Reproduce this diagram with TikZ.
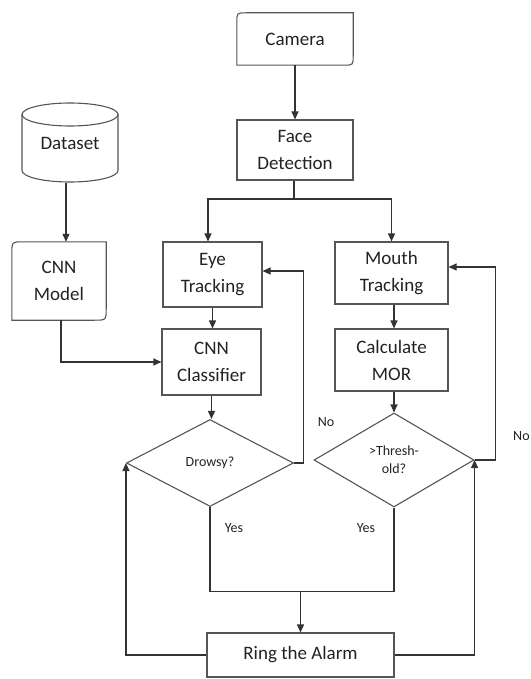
\documentclass[tikz,border=0pt]{standalone}
\usepackage{fontspec}
\setmainfont{Carlito}
\usetikzlibrary{arrows.meta,shapes.geometric,calc}
\definecolor{boxc}{HTML}{555555}
\definecolor{linec}{HTML}{333333}
\definecolor{txt}{HTML}{222222}
\newcommand\hrbox[2]{%
  \draw[box] (#1.south west) -- ($(#1.north west)+(0,#2)$) .. controls (#1.north west) .. ($(#1.north west)+(#2,0)$)
    -- (#1.north east) -- ($(#1.south east)+(0,-#2)$) .. controls (#1.south east) .. ($(#1.south east)+(-#2,0)$) -- cycle;}
\begin{document}
\begin{tikzpicture}[x=1pt,y=-1pt,
  font=\fontsize{19}{27}\selectfont, text=txt,
  every node/.style={inner sep=0pt, align=center},
  box/.style={draw=boxc, line width=1.1pt},
  arr/.style={draw=linec, line width=1.1pt, -{Triangle[length=8pt,width=7pt]}},
  ln/.style={draw=linec, line width=1.1pt},
  lbl/.style={font=\fontsize{14}{18}\selectfont}]
\useasboundingbox (0,0) rectangle (530,679);

% nodes
\node[minimum width=116pt, minimum height=52pt] (cam) at (295,39) {Camera};
\hrbox{cam}{10}
\node[box, minimum width=116pt, minimum height=60pt] (fd) at (295,150) {Face\\Detection};

\node[minimum width=96pt, minimum height=79pt] (ds) at (70,143) {Dataset};
\draw[box] (22,114.5) -- (22,170.5) arc[start angle=180, end angle=360, x radius=48pt, y radius=11.5pt] -- (118,114.5);
\draw[box] (70,114.5) ellipse[x radius=48pt, y radius=11.5pt];

\node[minimum width=94pt, minimum height=78pt] (cm) at (59,281) {CNN\\Model};
\hrbox{cm}{12}

\node[box, minimum width=99pt, minimum height=65pt] (eye) at (212.5,274.5) {Eye\\Tracking};
\node[box, minimum width=99pt, minimum height=66pt] (cls) at (211.5,362) {CNN\\Classifier};
\node[box, minimum width=113pt, minimum height=62pt] (mouth) at (391.5,273) {Mouth\\Tracking};
\node[box, minimum width=113pt, minimum height=62pt] (mor) at (391.5,360) {Calculate\\MOR};

\node[box, diamond, minimum width=167pt, minimum height=87pt, lbl] (dr) at (210,463) {Drowsy?};
\node[box, diamond, minimum width=160pt, minimum height=94pt, lbl] (th) at (394,460) {>Thresh-\\old?};

\node[box, minimum width=187pt, minimum height=44pt] (ring) at (300.5,655) {Ring the Alarm};

% labels
\node[lbl] (no1) at (326,422) {No};
\node[lbl, anchor=west] (no2) at (513,436) {No};
\node[lbl] (yes1) at (234,528) {Yes};
\node[lbl] (yes2) at (366,528) {Yes};

% connectors
\draw[arr] (cam.south) -- (fd.north);
\coordinate (split) at (294,199);
\draw[ln] (fd.south -| split) -- (split);
\draw[arr] (split) -| ([xshift=-4.5pt]eye.north);
\draw[arr] (split) -| (mouth.north);
\draw[arr] ([xshift=-4pt]ds.south) -- ([xshift=-4pt]ds.south |- cm.north);
\draw[arr] ([xshift=2pt]cm.south) |- (cls.west);
\draw[arr] (eye.south) -- (eye.south |- cls.north);
\draw[arr] (cls.south) -- (cls.south |- dr.north);
\draw[arr] (mouth.south -| th.north) -- (mor.north -| th.north);
\draw[arr] (mor.south -| th.north) -- (th.north);

\draw[arr] (dr.east) -- ++(9,0) |- ([yshift=3.5pt]eye.east);
\draw[arr] (th.east) -- ++(21,0) |- ([yshift=6pt]mouth.east);

\path (dr.south) ++(0,84.5) coordinate (bl);
\coordinate (br) at (th.south |- bl);
\draw[ln] (dr.south) -- (bl) -- (br) -- (th.south);
\draw[arr] (ring.north |- bl) -- (ring.north);
\draw[arr] (ring.west) -| (dr.west);
\draw[arr] (ring.east) -| (th.east);
\end{tikzpicture}
\end{document}
